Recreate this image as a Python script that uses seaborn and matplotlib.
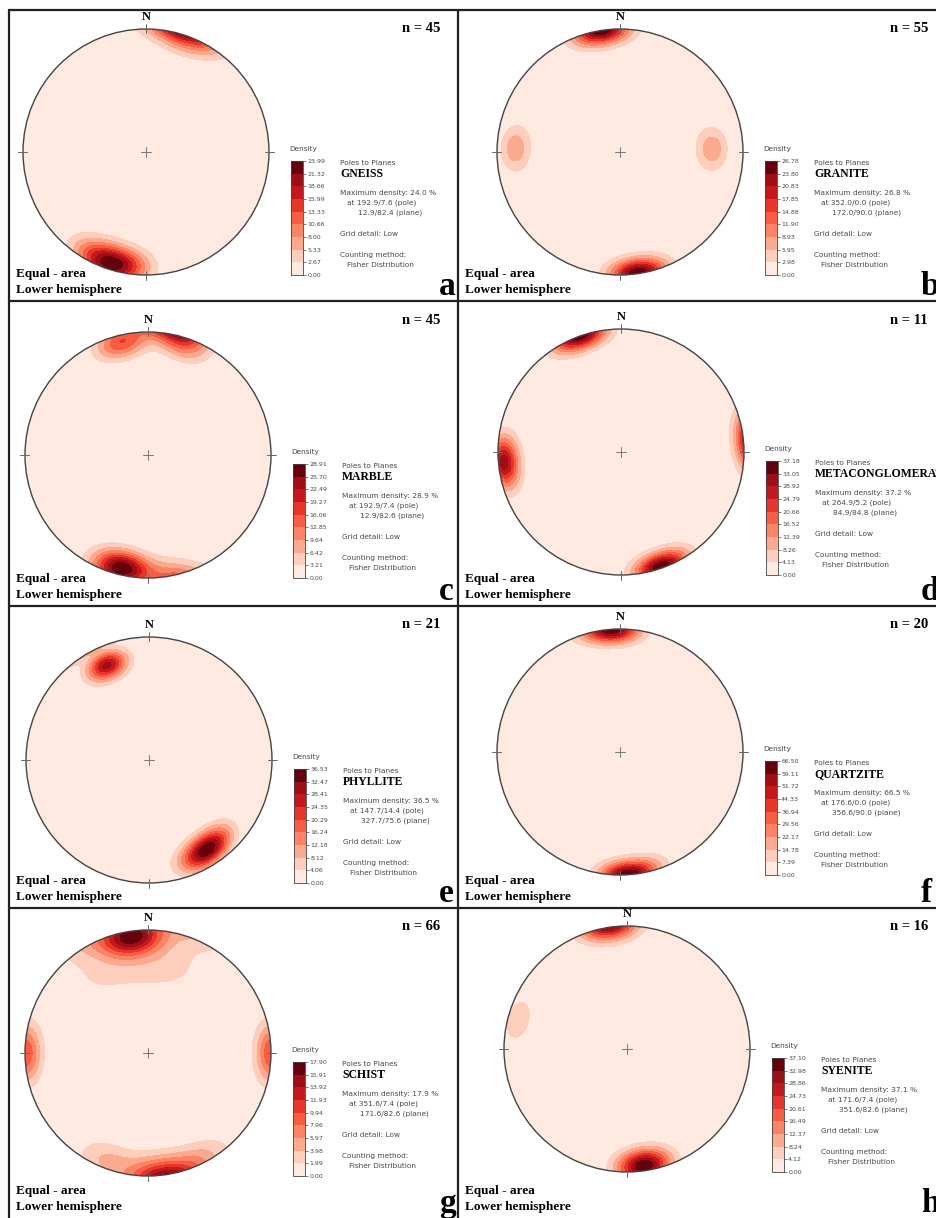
import numpy as np
import matplotlib
matplotlib.use('Agg')
import matplotlib.pyplot as plt
import seaborn as sns
from matplotlib.patches import Circle
from matplotlib.lines import Line2D

# Panel data
rock_names = ['GNEISS', 'GRANITE', 'MARBLE', 'METACONGLOMERATE',
              'PHYLLITE', 'QUARTZITE', 'SCHIST', 'SYENITE']
panel_letters = ['a', 'b', 'c', 'd', 'e', 'f', 'g', 'h']
n_poles = [45, 55, 45, 11, 21, 20, 66, 16]
max_density = [23.99, 26.78, 28.91, 37.18, 36.53, 66.50, 17.90, 37.10]
max_pole = ['192.9/7.6', '352.0/0.0', '192.9/7.4', '264.9/5.2',
            '147.7/14.4', '176.6/0.0', '351.6/7.4', '171.6/7.4']
max_plane = ['12.9/82.4', '172.0/90.0', '12.9/82.6', '84.9/84.8',
             '327.7/75.6', '356.6/90.0', '171.6/82.6', '351.6/82.6']

# pole clusters: (trend, plunge, relative weight, kappa)
gneiss_clusters = [(192.9, 7.6, 1.0, 35), (205, 8, 0.55, 35), (20, 3, 0.4, 35)]
granite_clusters = [(350, 1, 1.0, 45), (173, 2, 0.9, 45),
                    (272, 16, 0.55, 45), (88, 26, 0.55, 45)]
marble_clusters = [(192.9, 7.4, 1.0, 40), (172, 4, 0.25, 40),
                   (346, 8, 0.5, 45), (18, 8, 0.35, 45)]
metacong_clusters = [(264.9, 5.2, 1.0, 45), (340, 0, 0.6, 45), (161, 2, 0.6, 45)]
phyllite_clusters = [(147.7, 14.4, 1.0, 50), (140, 16, 0.6, 50),
                     (155, 12, 0.5, 50), (336, 17, 1.4, 60)]
quartzite_clusters = [(176.6, 0.0, 1.0, 50), (168, 4, 0.4, 50), (358, 1, 0.6, 50)]
schist_clusters = [(351.6, 7.4, 1.0, 35), (10, 25, 0.2, 10), (330, 25, 0.15, 10),
                   (270, 2, 0.45, 40), (90, 2, 0.35, 40), (175, 5, 0.45, 30),
                   (200, 8, 0.3, 30), (155, 5, 0.3, 30)]
syenite_clusters = [(171.6, 7.4, 1.0, 45), (352, 2, 0.6, 45), (285, 9, 0.25, 40)]
all_clusters = [gneiss_clusters, granite_clusters, marble_clusters, metacong_clusters,
                phyllite_clusters, quartzite_clusters, schist_clusters, syenite_clusters]

# layout (pixels)
W, H = 936, 1218
R = 123
centers = [(146, 152), (620, 152), (148, 455), (621, 452),
           (149, 760), (620, 752), (148, 1053), (627, 1049)]
row_tops = [10, 301, 606, 908]
row_bottoms = [301, 606, 908, 1218]
col_lefts = [9, 458]

sns.set_theme(style='white')
plt.rcParams['font.family'] = ['DejaVu Sans']
SERIF = 'Liberation Serif'
reds = sns.color_palette('Reds', as_cmap=True)
band_colors = [reds(v) for v in np.linspace(0.07, 1.0, 9)]


def fx(x):
    return x / W


def fy(y):
    return 1 - y / H


def density_grid(clusters, top, n=301):
    g = np.linspace(-1.05, 1.05, n)
    X, Y = np.meshgrid(g, g)
    r = np.clip(np.hypot(X, Y), 0, 1)
    theta = 2 * np.arcsin(r / np.sqrt(2))
    az = np.arctan2(X, Y)
    gx, gy, gz = np.sin(theta) * np.sin(az), np.sin(theta) * np.cos(az), np.cos(theta)
    d = np.zeros_like(X)
    for trend, plunge, w, k in clusters:
        t, p = np.radians(trend), np.radians(plunge)
        c = np.abs(gx * np.cos(p) * np.sin(t) + gy * np.cos(p) * np.cos(t) + gz * np.sin(p))
        d += w * np.exp(k * (c - 1))
    inside = np.hypot(X, Y) <= 1
    d = d / d[inside].max() * top * 0.999
    return X, Y, d


fig = plt.figure(figsize=(W / 100, H / 100), dpi=100)
fig.patch.set_facecolor('white')

small = dict(fontsize=5.3, color='#4a4a4a')
bold = dict(family=SERIF, fontweight='bold', color='black')

for i in range(8):
    cx, cy = centers[i]
    row, col = i // 2, i % 2
    top_y, bot_y, left_x = row_tops[row], row_bottoms[row], col_lefts[col]
    ext = 1.12
    ax = fig.add_axes([fx(cx - R * ext), fy(cy + R * ext), 2 * R * ext / W, 2 * R * ext / H])
    ax.set_xlim(-ext, ext)
    ax.set_ylim(-ext, ext)
    ax.set_aspect('equal')
    ax.axis('off')

    levels = np.linspace(0, max_density[i], 10)
    X, Y, d = density_grid(all_clusters[i], max_density[i])
    cs = ax.contourf(X, Y, d, levels=levels, colors=band_colors)
    cs.set_clip_path(Circle((0, 0), 1, transform=ax.transData))
    ax.add_patch(Circle((0, 0), 1, fill=False, lw=1.0, ec='#444444'))
    for a in (0, 90, 180, 270):
        s, c = np.sin(np.radians(a)), np.cos(np.radians(a))
        ax.plot([0.97 * s, 1.04 * s], [0.97 * c, 1.04 * c], color='#666666', lw=0.7)
    ax.plot([-0.04, 0.04], [0, 0], color='#777777', lw=0.7)
    ax.plot([0, 0], [-0.04, 0.04], color='#777777', lw=0.7)

    # colorbar
    cax = fig.add_axes([fx(cx + 145), fy(cy + 123), 12 / W, 114 / H])
    cb = fig.colorbar(cs, cax=cax, ticks=levels)
    cb.ax.set_yticklabels([f'{v:.2f}' for v in levels])
    cb.ax.tick_params(labelsize=4.5, length=2, width=0.5, pad=1, colors='#4a4a4a')
    cb.outline.set_linewidth(0.6)
    cb.outline.set_edgecolor('#444444')
    fig.text(fx(cx + 143), fy(cy - 3), 'Density', ha='left', va='center', **small)

    tx = cx + 194
    fig.text(fx(tx), fy(cy + 11), 'Poles to Planes', ha='left', va='center', **small)
    fig.text(fx(tx), fy(cy + 22), rock_names[i], ha='left', va='center', fontsize=8.5, **bold)
    fig.text(fx(tx), fy(cy + 41), f'Maximum density: {max_density[i]:.1f} %',
             ha='left', va='center', **small)
    fig.text(fx(tx + 7), fy(cy + 51), f'at {max_pole[i]} (pole)', ha='left', va='center', **small)
    fig.text(fx(tx + 18), fy(cy + 61), f'{max_plane[i]} (plane)', ha='left', va='center', **small)
    fig.text(fx(tx), fy(cy + 82), 'Grid detail: Low', ha='left', va='center', **small)
    fig.text(fx(tx), fy(cy + 103), 'Counting method:', ha='left', va='center', **small)
    fig.text(fx(tx + 7), fy(cy + 113), 'Fisher Distribution', ha='left', va='center', **small)

    fig.text(fx(cx), fy(cy - 135), 'N', ha='center', va='center', fontsize=9, **bold)
    if col == 0:
        fig.text(fx(440), fy(top_y + 19), f'n = {n_poles[i]}', ha='right', va='center',
                 fontsize=10.5, **bold)
        fig.text(fx(left_x + 430), fy(bot_y - 6), panel_letters[i], ha='left',
                 va='baseline', fontsize=24, **bold)
    else:
        fig.text(fx(890), fy(top_y + 19), f'n = {n_poles[i]}', ha='left', va='center',
                 fontsize=10.5, **bold)
        fig.text(fx(left_x + 463), fy(bot_y - 6), panel_letters[i], ha='left',
                 va='baseline', fontsize=24, **bold)
    fig.text(fx(left_x + 7), fy(bot_y - 27), 'Equal - area', ha='left', va='center',
             fontsize=9.5, **bold)
    fig.text(fx(left_x + 7), fy(bot_y - 11), 'Lower hemisphere', ha='left', va='center',
             fontsize=9.5, **bold)

# panel frame lines
for y in row_tops:
    fig.add_artist(Line2D([fx(9), 1], [fy(y), fy(y)], color='#222222', lw=1.6))
for x in col_lefts:
    fig.add_artist(Line2D([fx(x), fx(x)], [fy(10), 0], color='#222222', lw=1.6))

fig.savefig('out.png', dpi=100, facecolor='white')
